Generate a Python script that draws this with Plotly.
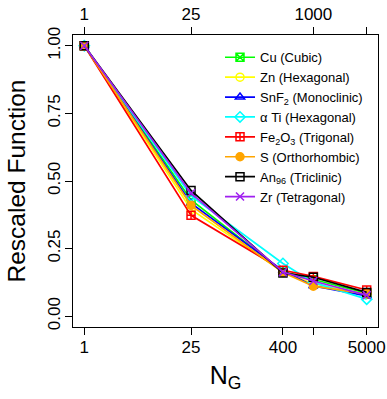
import plotly.graph_objects as go

N_G = [1, 25, 400, 1000, 5000]

names = [
    "Cu (Cubic)",
    "Zn (Hexagonal)",
    "SnF<sub>2</sub> (Monoclinic)",
    "α Ti (Hexagonal)",
    "Fe<sub>2</sub>O<sub>3</sub> (Trigonal)",
    "S (Orthorhombic)",
    "An<sub>96</sub> (Triclinic)",
    "Zr (Tetragonal)",
]

cu = [1.0, 0.430, 0.165, 0.135, 0.085]
zn = [1.0, 0.395, 0.163, 0.120, 0.080]
snf2 = [1.0, 0.418, 0.168, 0.112, 0.075]
ati = [1.0, 0.445, 0.195, 0.125, 0.063]
fe2o3 = [1.0, 0.373, 0.170, 0.147, 0.097]
s_orth = [1.0, 0.410, 0.162, 0.111, 0.082]
an96 = [1.0, 0.465, 0.160, 0.144, 0.088]
zr = [1.0, 0.455, 0.163, 0.130, 0.078]
series = [cu, zn, snf2, ati, fe2o3, s_orth, an96, zr]

colors = ["#00FF00", "#FFFF00", "#0000FF", "#00FFFF", "#FF0000", "#FFA500", "#000000", "#A020F0"]
symbols = ["square-x-open", "circle-open", "triangle-up-open", "diamond-open",
           "square-cross-open", "circle", "square-open", "x-thin-open"]

bottom_ticks = [1, 25, 400, 5000]
bottom_labels = ["1", "25", "400", "5000"]
bottom_minor = [1000]
top_ticks = [1, 25, 1000]
top_labels = ["1", "25", "1000"]
top_minor = [5000]
y_ticks = [0, 0.25, 0.5, 0.75, 1.0]
y_labels = ["0.00", "0.25", "0.50", "0.75", "1.00"]

FONT = "Liberation Sans, Arial, sans-serif"

fig = go.Figure()
for name, vals, c, sym in zip(names, series, colors, symbols):
    fig.add_trace(go.Scatter(
        x=N_G, y=vals, name=name, mode="lines+markers",
        line=dict(color=c, width=1.7),
        marker=dict(symbol=sym, size=8, color=c, line=dict(color=c, width=1.5)),
    ))

# invisible trace to carry the top axis
fig.add_trace(go.Scatter(x=N_G, y=cu, xaxis="x2", mode="markers",
                         marker=dict(opacity=0), showlegend=False, hoverinfo="skip"))

xr = [-0.148, 3.847]
tick_style = dict(ticks="outside", ticklen=7, tickwidth=1, tickcolor="black")
fig.update_layout(
    width=387, height=399,
    margin=dict(l=73, r=9, t=35, b=72),
    paper_bgcolor="white", plot_bgcolor="white",
    font=dict(family=FONT, color="black", size=17),
    xaxis=dict(
        type="log", range=xr, tickvals=bottom_ticks, ticktext=bottom_labels,
        minor=dict(tickvals=bottom_minor, **tick_style),
        showline=True, linecolor="black", linewidth=1.2, mirror=True,
        showgrid=False, zeroline=False, automargin=False,
        tickfont=dict(size=17), ticklabelstandoff=-3,
        title=dict(text="N<sub>G</sub>", font=dict(size=25), standoff=10),
        **tick_style,
    ),
    xaxis2=dict(
        type="log", range=xr, overlaying="x", side="top",
        tickvals=top_ticks, ticktext=top_labels,
        minor=dict(tickvals=top_minor, **tick_style),
        showline=False, showgrid=False, zeroline=False, automargin=False,
        tickfont=dict(size=17),
        **tick_style,
    ),
    yaxis=dict(
        range=[-0.04, 1.04], tickvals=y_ticks, ticktext=y_labels,
        showline=True, linecolor="black", linewidth=1.2, mirror=True,
        showgrid=False, zeroline=False, tickangle=-90, automargin=False,
        tickfont=dict(size=17), ticklabelstandoff=-2,
        title=dict(text="Rescaled Function", font=dict(size=24.5), standoff=12),
        **tick_style,
    ),
    legend=dict(
        x=0.482, y=0.975, xanchor="left", yanchor="top",
        bgcolor="rgba(0,0,0,0)", borderwidth=0,
        font=dict(size=13),
        tracegroupgap=0,
    ),
)

fig.write_html("out.html")
